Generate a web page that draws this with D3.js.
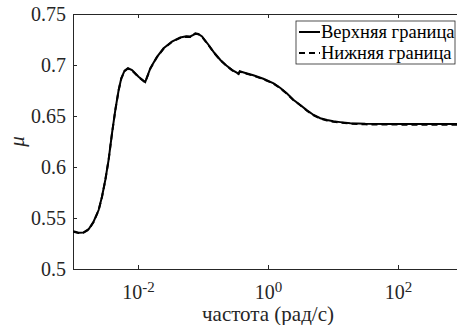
<!DOCTYPE html>
<html>
<head>
<meta charset="utf-8">
<script src="https://cdn.jsdelivr.net/npm/d3@7"></script>
<style>
  body { margin: 0; background: #fff; }
  svg { display: block; font-family: "Liberation Serif", "Times New Roman", serif; }
</style>
</head>
<body>
<div id="app"></div>
<script>
// частота, рад/с
var freq = [0.00101, 0.00122, 0.00144, 0.00174, 0.00207, 0.00248, 0.00279, 0.00314, 0.00353, 0.00398,
  0.00448, 0.00504, 0.00553, 0.00622, 0.00701, 0.00809, 0.0102, 0.0129, 0.0155, 0.0196,
  0.0248, 0.0333, 0.0448, 0.0553, 0.0638, 0.0710, 0.0762, 0.0847, 0.0966, 0.122,
  0.149, 0.185, 0.229, 0.282, 0.331, 0.353, 0.368, 0.448, 0.594, 0.847,
  1.22, 1.55, 1.96, 2.45, 3.14, 3.98, 5.04, 6.38, 8.09, 10.1,
  12.9, 18.5, 31.4, 63.8, 155, 448, 1000];
var upper = [0.537, 0.5356, 0.5358, 0.539, 0.5464, 0.5578, 0.5709, 0.5873, 0.607, 0.633,
  0.656, 0.6755, 0.687, 0.6944, 0.6968, 0.695, 0.6885, 0.6833, 0.6968, 0.708,
  0.7164, 0.723, 0.727, 0.7282, 0.728, 0.7295, 0.731, 0.7305, 0.728, 0.7196,
  0.712, 0.7049, 0.6995, 0.695, 0.6925, 0.6912, 0.6938, 0.6922, 0.690, 0.6865,
  0.682, 0.6775, 0.672, 0.666, 0.6608, 0.6555, 0.651, 0.6478, 0.646, 0.6448,
  0.644, 0.643, 0.6424, 0.6422, 0.6421, 0.6421, 0.6421];
var lower = [0.5365, 0.5352, 0.5355, 0.5385, 0.546, 0.5575, 0.5705, 0.587, 0.6068, 0.6328,
  0.6558, 0.6752, 0.6866, 0.694, 0.6965, 0.6947, 0.6882, 0.683, 0.6965, 0.7077,
  0.7161, 0.7227, 0.7267, 0.7276, 0.7275, 0.7292, 0.7307, 0.7302, 0.7277, 0.7193,
  0.7117, 0.7046, 0.6992, 0.6947, 0.6922, 0.6916, 0.6934, 0.6917, 0.6896, 0.6861,
  0.6817, 0.6772, 0.6717, 0.6657, 0.6605, 0.6552, 0.6506, 0.6474, 0.6456, 0.6443,
  0.6435, 0.6425, 0.6418, 0.6416, 0.6415, 0.6415, 0.6415];
var xTicks = [1e-2, 1, 1e2];
var xTickExp = ["-2", "0", "2"];
var yTicks = [0.5, 0.55, 0.6, 0.65, 0.7, 0.75];
var seriesNames = ["Верхняя граница", "Нижняя граница"];

var w = 457, h = 325;
var padL = 73, padT = 14, padR = 463, padB = 269;

var svg = d3.select("#app").append("svg")
  .attr("width", w)
  .attr("height", h);

var xScale = d3.scaleLog().domain([1e-3, 1e3]).range([padL, padR]);
var yScale = d3.scaleLinear().domain([0.5, 0.75]).range([padB, padT]);

// axes, ticks pointing inward like matlab
var xAxis = d3.axisBottom(xScale).tickValues(xTicks).tickSizeInner(-4).tickSizeOuter(0).tickPadding(16);
var gx = svg.append("g")
  .attr("transform", "translate(0," + padB + ")")
  .call(xAxis);
gx.selectAll(".tick text").text(null).style("font-size", "20px")
  .each(function (d, i) {
    var t = d3.select(this);
    t.append("tspan").text("10");
    t.append("tspan").attr("dy", "-0.5em").style("font-size", "15px").text(xTickExp[i]);
  });

svg.append("g")
  .attr("transform", "translate(0," + padT + ")")
  .call(d3.axisTop(xScale).tickValues(xTicks).tickSizeInner(-4).tickSizeOuter(0).tickFormat(""));

var gy = svg.append("g")
  .attr("transform", "translate(" + padL + ",0)")
  .call(d3.axisLeft(yScale).tickValues(yTicks).tickSizeInner(-4).tickSizeOuter(0).tickPadding(7)
    .tickFormat(d3.format("")));
gy.selectAll(".tick text").style("font-size", "20px");

svg.append("g")
  .attr("transform", "translate(" + padR + ",0)")
  .call(d3.axisRight(yScale).tickValues(yTicks).tickSizeInner(-4).tickSizeOuter(0).tickFormat(""));

svg.selectAll(".domain").attr("stroke", "#262626");
svg.selectAll(".tick line").attr("stroke", "#262626");
svg.selectAll(".tick text").attr("fill", "#262626").style("font-family", "Liberation Serif");

var line = d3.line()
  .x(function (d) { return xScale(d[0]); })
  .y(function (d) { return yScale(d[1]); });

svg.append("path")
  .datum(freq.map(function (f, i) { return [f, upper[i]]; }))
  .attr("d", line)
  .attr("fill", "none")
  .attr("stroke", "#000")
  .attr("stroke-width", 2);

svg.append("path")
  .datum(freq.map(function (f, i) { return [f, lower[i]]; }))
  .attr("d", line)
  .attr("fill", "none")
  .attr("stroke", "#000")
  .attr("stroke-width", 2)
  .attr("stroke-dasharray", "6,4");

// labels
svg.append("text")
  .attr("x", (padL + padR) / 2)
  .attr("y", 321)
  .attr("text-anchor", "middle")
  .style("font-size", "21px")
  .attr("fill", "#262626")
  .text("частота (рад/с)");

svg.append("text")
  .attr("transform", "translate(24," + ((padT + padB) / 2) + ") rotate(-90)")
  .attr("text-anchor", "middle")
  .style("font-size", "21px")
  .style("font-style", "italic")
  .attr("fill", "#262626")
  .text("μ");

// legend
var lg = svg.append("g");
lg.append("rect")
  .attr("x", 296).attr("y", 21)
  .attr("width", 159).attr("height", 43)
  .attr("fill", "#fff")
  .attr("stroke", "#262626")
  .attr("stroke-width", 0.8);
seriesNames.forEach(function (name, i) {
  var yy = 32 + i * 21;
  lg.append("line")
    .attr("x1", 299).attr("x2", 320)
    .attr("y1", yy).attr("y2", yy)
    .attr("stroke", "#000")
    .attr("stroke-width", 2)
    .attr("stroke-dasharray", i == 1 ? "6,4" : null);
  lg.append("text")
    .attr("x", 321).attr("y", yy)
    .attr("dy", "0.35em")
    .style("font-size", "18.5px")
    .attr("fill", "#000")
    .text(name);
});
</script>
</body>
</html>
